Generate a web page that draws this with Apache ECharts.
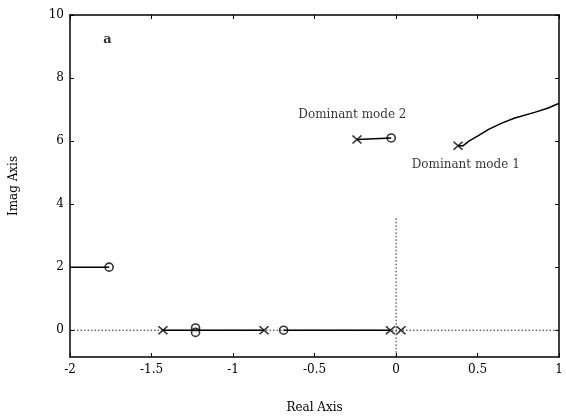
<!DOCTYPE html>
<html><head><meta charset="utf-8">
<script src="https://cdn.jsdelivr.net/npm/echarts@6/dist/echarts.min.js"></script>
<style>html,body{margin:0;padding:0;background:#fff;overflow:hidden;width:566px;height:419px}#c{width:566px;height:419px;position:absolute;left:0;top:0}</style>
</head><body><div id="c"></div>
<script>
// ---- data ----
var xTicks = [-2, -1.5, -1, -0.5, 0, 0.5, 1];
var yTicks = [0, 2, 4, 6, 8, 10];
var poles = [[-1.43, 0], [-0.81, 0], [-0.035, 0], [0.03, 0], [-0.24, 6.05], [0.38, 5.85]];
var zeros = [[-1.76, 2.0], [-1.23, 0.07], [-1.23, -0.07], [-0.69, 0], [-0.03, 6.1]];
var branchLeft = [[-2, 2.0], [-1.76, 2.0]];
var branchReal1 = [[-1.43, 0], [-0.81, 0]];
var branchReal2 = [[-0.69, 0], [-0.035, 0]];
var branchMode2 = [[-0.24, 6.05], [-0.03, 6.1]];
var branchMode1 = [[0.38, 5.85], [0.41, 5.85], [0.446, 6.0], [0.507, 6.18], [0.567, 6.37], [0.648, 6.57], [0.728, 6.73], [0.849, 6.91], [0.929, 7.04], [1.0, 7.2]];
var realAxisDots = [[-2, 0], [1, 0]];
var imagAxisDots = [[0, 3.55], [0, -0.85]];
var annotations = [[-0.268, 6.82, 'Dominant mode 2'], [0.427, 5.26, 'Dominant mode 1']];
var panelLabel = [[-1.77, 9.22, 'a']];

var FONT = 'DejaVu Serif';
var chart = echarts.init(document.getElementById('c'), null, {renderer: 'canvas', width: 566, height: 419});

function lineSeries(data, dotted) {
  return {
    type: 'line', data: data, showSymbol: false, symbol: 'none', silent: true,
    xAxisIndex: 0, yAxisIndex: 0, animation: false,
    lineStyle: dotted ? {color: '#222', width: 1, type: [1.5, 2]} : {color: '#000', width: 1.5}
  };
}
var axisCommon = {
  type: 'value',
  axisLine: {show: true, onZero: false, lineStyle: {color: '#000', width: 1.5}},
  splitLine: {show: false},
  axisTick: {show: true, inside: true, length: 4, lineStyle: {color: '#000', width: 1}}
};
var option = {
  backgroundColor: '#fff',
  animation: false,
  grid: {left: 68, right: 1, top: 15, bottom: 56, containLabel: false},
  xAxis: [
    Object.assign({}, axisCommon, {
      position: 'bottom', min: -2, max: 1, interval: 0.5,
      name: 'Real Axis', nameLocation: 'middle', nameGap: 45,
      nameTextStyle: {fontFamily: FONT, fontSize: 12, color: '#000'},
      axisLabel: {show: true, margin: 7, fontFamily: FONT, fontSize: 12, color: '#000',
        formatter: function (v) { return xTicks.indexOf(v) >= 0 ? String(v) : ''; }}
    }),
    Object.assign({}, axisCommon, {
      position: 'top', min: -2, max: 1, interval: 0.5, axisLabel: {show: false}
    })
  ],
  yAxis: [
    Object.assign({}, axisCommon, {
      position: 'left', min: -0.85, max: 10,
      name: 'Imag Axis', nameLocation: 'middle', nameGap: 50,
      nameTextStyle: {fontFamily: FONT, fontSize: 12, color: '#000'},
      axisTick: {show: true, inside: true, length: 4, customValues: yTicks, lineStyle: {color: '#000', width: 1}},
      axisLabel: {show: true, margin: 6, fontFamily: FONT, fontSize: 12, color: '#000', customValues: yTicks}
    }),
    Object.assign({}, axisCommon, {
      position: 'right', min: -0.85, max: 10,
      axisTick: {show: true, inside: true, length: 4, customValues: yTicks, lineStyle: {color: '#000', width: 1}},
      axisLabel: {show: false}
    })
  ],
  series: [
    lineSeries(realAxisDots, true),
    lineSeries(imagAxisDots, true),
    lineSeries(branchLeft, false),
    lineSeries(branchReal1, false),
    lineSeries(branchReal2, false),
    lineSeries(branchMode2, false),
    lineSeries(branchMode1, false),
    {
      type: 'scatter', data: poles, symbol: 'path://M0,0L10,10M10,0L0,10', symbolSize: [9, 8],
      itemStyle: {color: 'rgba(0,0,0,0)', borderColor: '#000', borderWidth: 1.6}, silent: true
    },
    {
      type: 'scatter', data: zeros, symbol: 'circle', symbolSize: [8, 8],
      itemStyle: {color: '#fff', borderColor: '#000', borderWidth: 1.6}, silent: true
    },
    {
      type: 'scatter', data: annotations, symbolSize: 0, silent: true,
      label: {show: true, position: 'inside', fontFamily: FONT, fontSize: 12, color: '#000',
        formatter: function (p) { return p.data[2]; }}
    },
    {
      type: 'scatter', data: panelLabel, symbolSize: 0, silent: true,
      label: {show: true, position: 'inside', fontFamily: FONT, fontSize: 13, fontWeight: 'bold', color: '#000',
        formatter: function (p) { return p.data[2]; }}
    }
  ]
};
chart.setOption(option);
</script>
</body></html>
